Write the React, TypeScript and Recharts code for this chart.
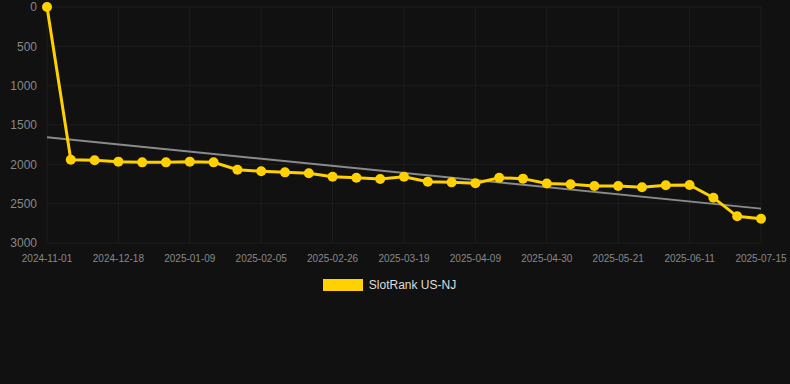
import { LineChart, Line, XAxis, YAxis, CartesianGrid, Legend, ReferenceLine } from 'recharts';

const dates = [
  '2024-11-01', '2024-12-04', '2024-12-11', '2024-12-18', '2024-12-25', '2025-01-01',
  '2025-01-09', '2025-01-22', '2025-01-29', '2025-02-05', '2025-02-12', '2025-02-19',
  '2025-02-26', '2025-03-05', '2025-03-12', '2025-03-19', '2025-03-26', '2025-04-02',
  '2025-04-09', '2025-04-16', '2025-04-23', '2025-04-30', '2025-05-07', '2025-05-14',
  '2025-05-21', '2025-05-28', '2025-06-04', '2025-06-11', '2025-06-25', '2025-07-02',
  '2025-07-15',
];

const ranks = [
  0, 1941, 1949, 1966, 1975, 1975,
  1966, 1975, 2068, 2089, 2102, 2114,
  2157, 2170, 2186, 2157, 2220, 2229,
  2241, 2170, 2182, 2243, 2254, 2275,
  2275, 2292, 2267, 2263, 2424, 2661,
  2691,
];

const yTicks = [0, 500, 1000, 1500, 2000, 2500, 3000];

// trend line end points
const trendStart = 1657;
const trendEnd = 2563;

const seriesName = 'SlotRank US-NJ';
const yellow = '#FFD100';

const chartData = dates.map((d, i) => ({ date: d, rank: ranks[i] }));

const LegendBox = () => (
  <div style={{ display: 'flex', justifyContent: 'center', alignItems: 'center', height: 20, paddingLeft: 18, fontFamily: 'Arial, "Liberation Sans", sans-serif' }}>
    <span style={{ display: 'inline-block', width: 40, height: 12, background: yellow, marginRight: 6 }} />
    <span style={{ fontSize: 12, color: '#dddddd' }}>{seriesName}</span>
  </div>
);

const App = () => {
  return (
    <div style={{ width: 790, height: 384, background: '#111111' }}>
      <style>{`body{margin:0;background:#111111;}`}</style>
      <LineChart
        width={790}
        height={384}
        data={chartData}
        margin={{ top: 7, right: 29, left: 0, bottom: 91 }}
        style={{ fontFamily: 'Arial, "Liberation Sans", sans-serif' }}
      >
        <CartesianGrid stroke="#1d1d1d" strokeWidth={1} />
        <XAxis
          dataKey="date"
          interval={2}
          height={30}
          tickLine={false}
          axisLine={false}
          tickMargin={6}
          tick={{ fill: '#888888', fontSize: 10 }}
        />
        <YAxis
          reversed
          domain={[0, 3000]}
          ticks={yTicks}
          interval={0}
          width={47}
          tickLine={false}
          axisLine={false}
          tickMargin={4}
          tick={{ fill: '#888888', fontSize: 12 }}
        />
        <ReferenceLine
          segment={[{ x: dates[0], y: trendStart }, { x: dates[dates.length - 1], y: trendEnd }]}
          stroke="#8a8a8a"
          strokeWidth={2}
          ifOverflow="visible"
        />
        <Line
          dataKey="rank"
          name={seriesName}
          stroke={yellow}
          strokeWidth={3}
          dot={{ r: 5, fill: yellow, stroke: yellow, strokeWidth: 0 }}
          activeDot={false}
          isAnimationActive={false}
        />
        <Legend verticalAlign="bottom" height={20} content={<LegendBox />} wrapperStyle={{ bottom: 89 }} />
      </LineChart>
    </div>
  );
};

export default App;
